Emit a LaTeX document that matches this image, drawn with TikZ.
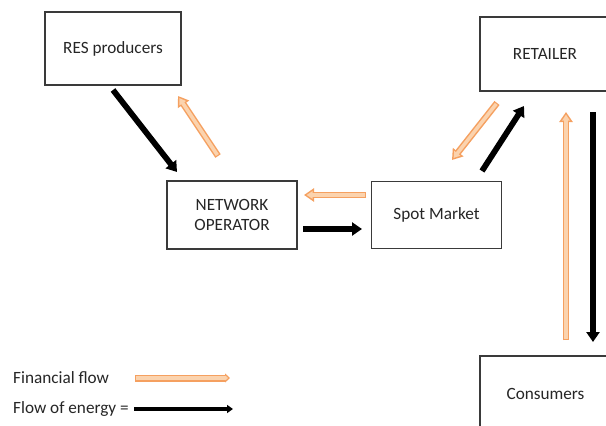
\documentclass[tikz,border=0pt]{standalone}
\usepackage{fontspec}
\setmainfont{Carlito}
\usetikzlibrary{arrows.meta}
\definecolor{boxc}{HTML}{3A3A3A}
\definecolor{finedge}{HTML}{F5A060}
\definecolor{finfill}{HTML}{FBD3AE}
\tikzset{
  box/.style={draw=boxc, line width=1.2pt, fill=white, inner sep=0pt, align=center,
    font=\fontsize{17.2}{20.5}\selectfont, text=black!85},
  energy/.style={line width=5.8pt, black, -{Triangle[length=10pt,width=13pt]}},
  energysmall/.style={line width=3.8pt, black, -{Triangle[length=6pt,width=8pt]}},
  finout/.style={line width=6.5pt, finedge, -{Triangle[length=10pt,width=13pt]}},
  finin/.style={line width=3.5pt, finfill, shorten <=1.2pt, shorten >=2.6pt, -{Triangle[length=6pt,width=7.5pt]}},
  finoutsmall/.style={line width=7pt, finedge, -{Triangle[length=5pt,width=9pt]}},
  fininsmall/.style={line width=4.4pt, finfill, shorten <=1.3pt, shorten >=2pt, -{Triangle[length=2.5pt,width=4.4pt]}},
  legend/.style={anchor=west, inner sep=0pt, font=\fontsize{17.2}{20}\selectfont, text=black!85}
}
\begin{document}
\begin{tikzpicture}[x=1pt,y=-1pt]
\useasboundingbox[fill=white] (0,0) rectangle (606,426);
% boxes
\node[box, minimum width=136pt, minimum height=73pt] (res) at (113,48.5) {RES producers};
\node[box, minimum width=130pt, minimum height=68pt] (no) at (232,215) {NETWORK\\OPERATOR};
\node[box, minimum width=130pt, minimum height=67pt] (sm) at (436.5,215) {Spot Market};
\node[box, minimum width=132pt, minimum height=74pt, text width=132pt] (ret) at (546,54) {\hspace*{-2pt}RETAILER};
\node[box, minimum width=134pt, minimum height=76pt, text width=134pt] (con) at (547,394) {\hspace*{-3pt}Consumers};
% arrow end points
\coordinate (a1s) at (113,90);  \coordinate (a1e) at (177,172);
\coordinate (a2s) at (218,156); \coordinate (a2e) at (178,96);
\coordinate (a3s) at (366,195); \coordinate (a3e) at (304,195);
\coordinate (a4s) at (303,229); \coordinate (a4e) at (362,229);
\coordinate (a5s) at (497,103); \coordinate (a5e) at (452,160);
\coordinate (a6s) at (482,171); \coordinate (a6e) at (524,106);
\coordinate (a7s) at (566,340); \coordinate (a7e) at (566,112);
\coordinate (a8s) at (593,112); \coordinate (a8e) at (593,342);
% energy flows
\draw[energy] (a1s) -- (a1e);
\draw[energy] (a4s) -- (a4e);
\draw[energy] (a6s) -- (a6e);
\draw[energy] (a8s) -- (a8e);
% financial flows
\foreach \s/\e in {a2s/a2e, a3s/a3e, a5s/a5e, a7s/a7e}{
  \draw[finout] (\s) -- (\e);
  \draw[finin] (\s) -- (\e);
}
% legend
\node[legend] (lf) at (13,378) {Financial flow};
\node[legend] (le) at (13,409) {Flow of energy =};
\coordinate (l1s) at (135,378); \coordinate (l1e) at (230,378);
\coordinate (l2s) at (134,409); \coordinate (l2e) at (233,409);
\draw[finoutsmall] (l1s) -- (l1e);
\draw[fininsmall] (l1s) -- (l1e);
\draw[energysmall] (l2s) -- (l2e);
\end{tikzpicture}
\end{document}
